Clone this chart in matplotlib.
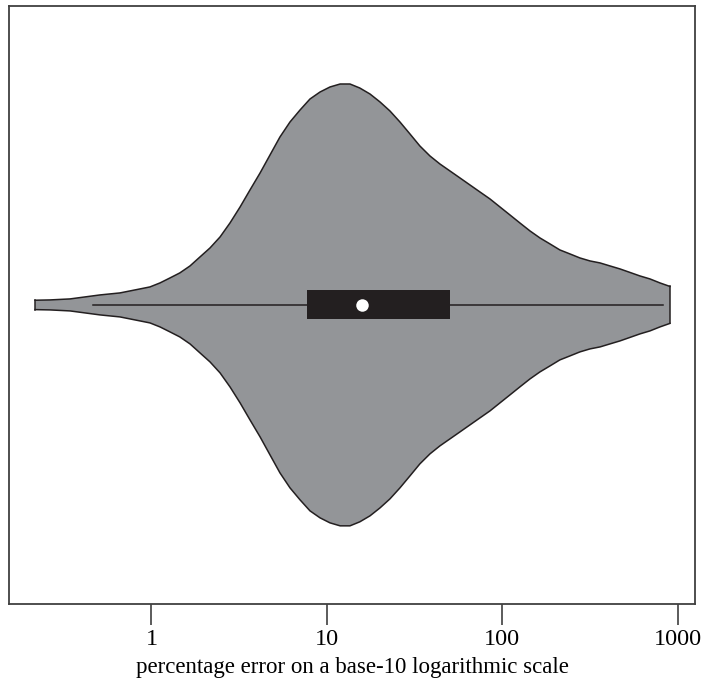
import matplotlib.pyplot as plt
import numpy as np

plt.rcParams['font.family'] = ['Liberation Serif', 'DejaVu Serif']

# Violin outline: percentage error and half-width in pixels
err_values = [0.217, 0.264, 0.343, 0.509, 0.661, 0.754, 0.860, 0.98, 1.118, 1.275,
              1.45, 1.658, 1.89, 2.156, 2.46, 2.803, 3.20, 3.644, 4.16, 4.739,
              5.40, 6.161, 7.03, 8.01, 9.14, 10.41, 11.9, 13.54, 15.4, 17.61,
              20.1, 22.89, 26.1, 29.77, 33.9, 38.7, 44.1, 50.32, 57.4, 65.43,
              74.6, 85.1, 97.0, 110.6, 126, 143.9, 164, 187.1, 213, 243.2,
              277, 316.2, 361, 411.1, 469, 534.6, 609, 695, 792.5, 903]
half_width_px = [4.7, 5, 6, 10, 12, 14, 16, 18, 22, 27,
                 32, 39, 48, 57, 68, 82, 98, 115, 132, 150,
                 168, 183, 195, 206, 213, 218, 221, 221, 217, 211,
                 203, 194, 183, 171, 159, 149, 141, 134, 127, 120,
                 113, 106, 98, 90, 82, 74, 67, 61, 55, 51,
                 47, 44, 42, 39, 36, 32.5, 29, 26, 22, 18.5]
half_width = [w / 299.5 for w in half_width_px]

# box-plot summary
whisker_lo, whisker_hi = 0.462, 824
q1, q3 = 7.67, 50.4
median = 15.85

tick_values = [1, 10, 100, 1000]
tick_labels = ['1', '10', '100', '1000']

fig = plt.figure(figsize=(7.02, 6.82), dpi=100)
ax = fig.add_axes([0.0135, 0.1139, 0.9765, 0.878])

ax.fill_between(err_values, [-h for h in half_width], half_width,
                facecolor='#939598', edgecolor='none', zorder=1)
line_kw = dict(color='#231f20', lw=1.1, zorder=2, solid_joinstyle='round')
ax.plot(err_values, half_width, **line_kw)
ax.plot(err_values, [-h for h in half_width], **line_kw)
ax.plot([err_values[0]] * 2, [-half_width[0], half_width[0]], **line_kw)
ax.plot([err_values[-1]] * 2, [-half_width[-1], half_width[-1]], **line_kw)

# whisker, box and median
ax.plot([whisker_lo, whisker_hi], [0, 0], color='#231f20', lw=1.1, zorder=3)
box_h = 29 / 299.5
ax.fill_between([q1, q3], -box_h / 2, box_h / 2, facecolor='#231f20', edgecolor='none', zorder=4)
ax.plot([median], [0], 'o', color='white', ms=9, mec='none', zorder=5)

ax.set_xscale('log')
ax.set_xlim(10 ** -0.8096, 10 ** 3.0986)
ax.set_ylim(-1, 1)
ax.set_yticks([])
ax.set_xticks(tick_values)
ax.set_xticklabels(tick_labels)
ax.xaxis.set_minor_locator(plt.NullLocator())
ax.tick_params(axis='x', length=15, width=1.2, color='#404040', pad=3, labelsize=17.5)
for s in ax.spines.values():
    s.set_color('#404040')
    s.set_linewidth(1.3)
ax.set_xlabel('percentage error on a base-10 logarithmic scale', fontsize=16.5, labelpad=5)

fig.savefig('out.png', dpi=100)
